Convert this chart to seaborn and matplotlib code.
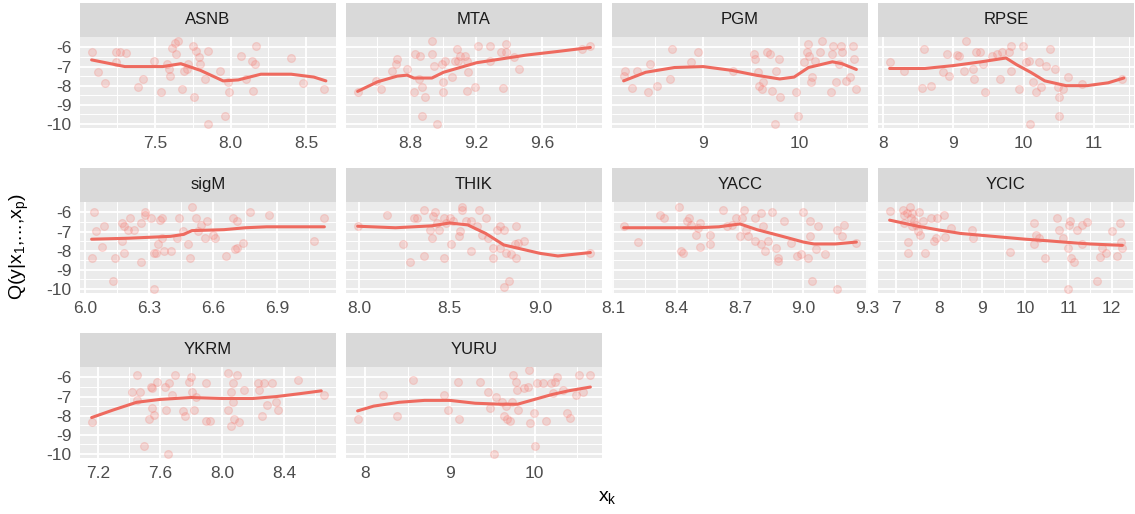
import pandas as pd
import seaborn as sns
import matplotlib.pyplot as plt
from matplotlib.patches import Rectangle

panels = ["ASNB", "MTA", "PGM", "RPSE", "sigM", "THIK", "YACC", "YCIC", "YKRM", "YURU"]

# scatter points (x_k, y) per panel
asnb_pts = [(7.08, -6.26), (7.12, -7.27), (7.17, -7.88), (7.24, -6.26), (7.27, -6.26), (7.31, -6.31),
            (7.24, -6.78), (7.39, -8.09), (7.42, -7.65), (7.49, -6.70), (7.54, -8.31), (7.58, -6.87),
            (7.59, -7.13), (7.60, -7.48), (7.61, -6.05), (7.63, -5.74), (7.65, -5.65), (7.64, -6.35),
            (7.68, -8.17), (7.69, -7.22), (7.71, -7.13), (7.72, -6.87), (7.76, -8.61), (7.75, -5.91),
            (7.77, -6.17), (7.79, -6.52), (7.80, -6.87), (7.83, -7.65), (7.85, -6.17), (7.93, -7.22),
            (7.96, -9.57), (7.98, -7.79), (7.99, -8.35), (8.07, -6.43), (8.10, -7.65), (8.14, -6.70),
            (8.15, -8.26), (8.16, -6.87), (8.17, -5.91), (8.40, -6.57), (8.48, -7.86), (8.62, -8.17),
            (7.85, -10.0)]
mta_pts = [(8.48, -8.35), (8.59, -7.74), (8.62, -8.17), (8.69, -7.22), (8.71, -6.87), (8.72, -6.61),
           (8.78, -7.13), (8.82, -8.35), (8.83, -6.35), (8.86, -6.43), (8.85, -7.65), (8.87, -8.09),
           (8.87, -9.57), (8.89, -8.61), (8.93, -6.35), (8.93, -5.65), (8.94, -6.96), (8.96, -10.0),
           (8.99, -6.87), (9.00, -7.83), (9.00, -8.35), (9.01, -6.70), (9.05, -7.57), (9.07, -6.70),
           (9.08, -6.09), (9.09, -6.70), (9.10, -6.43), (9.13, -6.43), (9.14, -6.70), (9.14, -8.26),
           (9.15, -7.30), (9.19, -8.09), (9.21, -5.91), (9.28, -5.91), (9.28, -6.70), (9.35, -6.26),
           (9.36, -8.14), (9.38, -5.83), (9.38, -6.26), (9.46, -7.13), (9.43, -6.52), (9.84, -6.09),
           (9.89, -5.91)]
pgm_pts = [(8.17, -7.48), (8.18, -7.22), (8.26, -8.14), (8.31, -7.22), (8.42, -8.31), (8.45, -6.87),
           (8.52, -8.03), (8.65, -7.65), (8.67, -6.09), (8.87, -6.75), (8.95, -6.26), (9.31, -7.22),
           (9.53, -6.35), (9.54, -6.61), (9.57, -7.30), (9.58, -8.03), (9.61, -8.17), (9.63, -7.83),
           (9.67, -6.26), (9.70, -6.35), (9.72, -8.26), (9.75, -10.0), (9.76, -7.22), (9.79, -6.61),
           (9.80, -8.61), (9.97, -8.31), (9.99, -9.57), (10.05, -6.78), (10.08, -6.26), (10.10, -5.83),
           (10.11, -6.47), (10.13, -7.83), (10.14, -7.57), (10.17, -6.70), (10.22, -6.26), (10.24, -5.65),
           (10.33, -8.31), (10.35, -6.35), (10.36, -5.91), (10.39, -7.83), (10.42, -6.87), (10.44, -5.91),
           (10.45, -6.26), (10.49, -7.74), (10.53, -7.57), (10.56, -5.91), (10.58, -6.61), (10.60, -8.17)]
rpse_pts = [(8.10, -6.75), (8.30, -7.22), (8.56, -8.14), (8.59, -6.09), (8.68, -8.03), (8.86, -7.30),
            (8.92, -6.35), (8.94, -7.48), (9.05, -6.40), (9.09, -6.47), (9.16, -7.22), (9.18, -5.65),
            (9.28, -7.13), (9.30, -7.65), (9.33, -6.26), (9.38, -6.26), (9.43, -6.87), (9.45, -8.31),
            (9.55, -6.43), (9.62, -6.35), (9.67, -7.65), (9.69, -6.26), (9.79, -6.26), (9.82, -5.91),
            (9.82, -7.22), (9.93, -8.17), (9.99, -5.91), (10.03, -6.78), (10.08, -6.70), (10.09, -10.0),
            (10.13, -7.83), (10.17, -8.35), (10.22, -6.78), (10.25, -8.09), (10.32, -6.96), (10.37, -6.09),
            (10.44, -7.13), (10.49, -8.09), (10.50, -8.61), (10.50, -9.57), (10.56, -8.17), (10.63, -7.57),
            (10.83, -7.91), (11.40, -7.65)]
sigm_pts = [(6.03, -8.36), (6.04, -5.95), (6.05, -6.98), (6.09, -6.72), (6.08, -7.79), (6.13, -9.57),
            (6.14, -8.36), (6.17, -7.50), (6.17, -6.55), (6.18, -8.14), (6.18, -6.72), (6.20, -6.90),
            (6.21, -6.29), (6.23, -6.90), (6.26, -6.55), (6.26, -8.59), (6.28, -5.95), (6.28, -6.12),
            (6.31, -6.29), (6.32, -8.10), (6.32, -10.0), (6.33, -8.10), (6.34, -7.67), (6.35, -6.38),
            (6.36, -7.33), (6.36, -6.29), (6.37, -8.02), (6.40, -8.02), (6.43, -7.33), (6.44, -6.29),
            (6.46, -6.98), (6.48, -7.67), (6.49, -8.36), (6.50, -5.69), (6.52, -6.29), (6.53, -6.98),
            (6.54, -6.64), (6.56, -7.33), (6.57, -6.47), (6.60, -7.16), (6.61, -7.33), (6.66, -8.28),
            (6.69, -6.29), (6.70, -7.93), (6.71, -6.47), (6.71, -7.84), (6.74, -7.59), (6.77, -5.95),
            (6.86, -6.12), (7.07, -7.50), (7.12, -6.29)]
thik_pts = [(7.99, -6.72), (8.15, -6.12), (8.24, -7.67), (8.28, -8.59), (8.30, -6.29), (8.32, -6.29),
            (8.36, -5.86), (8.36, -8.28), (8.39, -6.90), (8.40, -7.33), (8.41, -6.21), (8.42, -5.95),
            (8.43, -6.55), (8.44, -6.90), (8.47, -8.36), (8.47, -6.29), (8.48, -6.55), (8.50, -6.29),
            (8.51, -7.67), (8.52, -6.47), (8.55, -7.24), (8.56, -6.98), (8.57, -5.69), (8.57, -5.86),
            (8.59, -6.47), (8.62, -8.02), (8.62, -6.47), (8.65, -6.72), (8.66, -5.86), (8.68, -7.16),
            (8.70, -6.29), (8.71, -7.33), (8.74, -7.84), (8.74, -8.36), (8.76, -6.90), (8.78, -6.72),
            (8.78, -7.84), (8.80, -6.90), (8.80, -9.91), (8.81, -8.10), (8.83, -9.57), (8.84, -8.19),
            (8.86, -7.67), (8.87, -6.72), (8.87, -8.36), (8.88, -7.59), (8.91, -7.50), (9.28, -8.10)]
yacc_pts = [(8.15, -6.72), (8.22, -7.55), (8.32, -6.12), (8.34, -6.29), (8.41, -5.69), (8.42, -8.02),
            (8.43, -8.10), (8.45, -6.47), (8.46, -6.29), (8.47, -6.64), (8.49, -7.16), (8.50, -6.81),
            (8.51, -7.79), (8.51, -6.55), (8.56, -7.67), (8.56, -7.16), (8.62, -5.86), (8.64, -6.72),
            (8.66, -6.64), (8.68, -6.29), (8.70, -7.24), (8.71, -6.29), (8.72, -5.86), (8.73, -6.90),
            (8.74, -7.24), (8.77, -7.50), (8.77, -6.29), (8.80, -7.67), (8.80, -6.03), (8.81, -6.72),
            (8.82, -8.02), (8.83, -7.50), (8.85, -5.95), (8.87, -7.84), (8.88, -8.36), (8.88, -8.53),
            (8.91, -6.47), (8.94, -7.59), (8.97, -8.28), (8.99, -8.19), (9.00, -5.95), (9.02, -8.36),
            (9.03, -6.47), (9.03, -7.24), (9.04, -9.57), (9.06, -7.93), (9.07, -6.72), (9.10, -8.19),
            (9.16, -6.90), (9.16, -10.0), (9.18, -7.24), (9.19, -6.64), (9.25, -7.59)]
ycic_pts = [(6.85, -5.90), (7.15, -5.86), (7.18, -6.12), (7.19, -6.55), (7.25, -6.03), (7.27, -7.55),
            (7.28, -8.10), (7.33, -5.69), (7.35, -6.29), (7.36, -6.72), (7.38, -6.03), (7.41, -6.47),
            (7.46, -6.64), (7.50, -6.98), (7.54, -5.95), (7.56, -7.16), (7.62, -6.47), (7.67, -8.14),
            (7.81, -6.29), (7.88, -7.50), (7.92, -7.33), (7.95, -6.29), (8.12, -6.12), (8.13, -7.28),
            (8.28, -6.81), (8.77, -6.90), (8.79, -7.33), (9.64, -8.07), (10.21, -6.55), (10.21, -7.67),
            (10.25, -7.16), (10.31, -7.33), (10.46, -8.36), (10.73, -6.29), (10.77, -6.90), (10.88, -7.33),
            (10.98, -10.0), (11.00, -7.84), (11.02, -6.64), (11.04, -6.47), (11.05, -8.36), (11.13, -8.59),
            (11.19, -6.90), (11.31, -6.64), (11.31, -7.67), (11.44, -6.52), (11.65, -9.57), (11.73, -8.31),
            (11.77, -7.84), (11.87, -8.10), (12.02, -6.98), (12.13, -8.28), (12.19, -6.55), (12.21, -7.55),
            (12.25, -7.84)]
ykrm_pts = [(7.16, -8.33), (7.42, -6.74), (7.45, -5.88), (7.45, -7.17), (7.47, -6.74), (7.50, -9.57),
            (7.53, -8.16), (7.54, -6.48), (7.55, -6.57), (7.55, -7.60), (7.56, -7.94), (7.58, -6.22),
            (7.63, -6.48), (7.64, -7.68), (7.65, -10.0), (7.66, -6.31), (7.68, -6.91), (7.70, -5.88),
            (7.75, -7.77), (7.76, -8.03), (7.79, -6.22), (7.80, -5.97), (7.81, -6.74), (7.82, -7.68),
            (7.83, -7.00), (7.90, -6.27), (7.90, -8.28), (7.92, -8.28), (8.04, -7.68), (8.04, -5.79),
            (8.06, -6.74), (8.06, -8.54), (8.07, -6.31), (8.07, -7.26), (8.08, -8.20), (8.10, -5.88),
            (8.11, -8.33), (8.14, -6.65), (8.23, -6.31), (8.24, -6.65), (8.26, -8.03), (8.27, -6.31),
            (8.29, -7.43), (8.32, -6.31), (8.35, -7.26), (8.36, -7.68), (8.49, -6.14), (8.66, -6.91)]
yuru_pts = [(7.91, -8.16), (8.21, -6.91), (8.37, -8.03), (8.56, -6.14), (8.93, -6.91), (8.98, -7.68),
            (9.11, -8.20), (9.10, -6.22), (9.36, -6.22), (9.45, -6.74), (9.47, -7.60), (9.52, -10.0),
            (9.54, -7.00), (9.61, -7.26), (9.64, -8.03), (9.66, -7.51), (9.67, -8.16), (9.71, -8.28),
            (9.73, -7.26), (9.75, -5.88), (9.78, -6.22), (9.79, -6.65), (9.81, -7.68), (9.87, -6.57),
            (9.92, -6.48), (9.94, -5.62), (9.95, -8.37), (9.99, -7.85), (10.00, -9.57), (10.03, -6.31),
            (10.10, -6.31), (10.13, -8.28), (10.20, -6.31), (10.22, -6.82), (10.24, -6.22), (10.27, -5.97),
            (10.34, -6.65), (10.38, -7.85), (10.42, -8.11), (10.49, -6.91), (10.52, -5.88), (10.57, -6.74),
            (10.66, -5.88)]

# fitted quantile curves per panel
asnb_fit = [(7.08, -6.65), (7.3, -7.0), (7.55, -7.0), (7.67, -6.85), (7.8, -7.2), (7.95, -7.75),
            (8.05, -7.7), (8.2, -7.4), (8.4, -7.4), (8.55, -7.55), (8.63, -7.75)]
mta_fit = [(8.48, -8.3), (8.6, -7.8), (8.72, -7.5), (8.78, -7.45), (8.82, -7.6), (8.93, -7.6),
           (9.0, -7.3), (9.1, -7.05), (9.2, -6.8), (9.35, -6.6), (9.5, -6.4), (9.7, -6.2), (9.89, -6.0)]
pgm_fit = [(8.17, -7.75), (8.4, -7.3), (8.7, -7.05), (9.0, -7.0), (9.3, -7.2), (9.55, -7.45),
           (9.8, -7.65), (9.95, -7.55), (10.1, -7.05), (10.35, -6.75), (10.45, -6.85), (10.6, -7.15)]
rpse_fit = [(8.1, -7.1), (8.6, -7.1), (9.0, -6.95), (9.4, -6.75), (9.75, -6.55), (9.9, -6.9),
            (10.1, -7.3), (10.3, -7.75), (10.6, -8.0), (10.9, -8.0), (11.2, -7.85), (11.42, -7.6)]
sigm_fit = [(6.03, -7.4), (6.2, -7.35), (6.4, -7.25), (6.46, -7.15), (6.5, -6.95), (6.65, -6.9),
            (6.75, -6.8), (6.85, -6.75), (7.12, -6.75)]
thik_fit = [(7.99, -6.72), (8.2, -6.8), (8.4, -6.7), (8.5, -6.55), (8.6, -6.65), (8.7, -7.1),
            (8.8, -7.7), (9.0, -8.14), (9.1, -8.28), (9.28, -8.1)]
yacc_fit = [(8.15, -6.8), (8.5, -6.8), (8.6, -6.75), (8.7, -6.6), (8.78, -6.9), (8.9, -7.25),
            (9.0, -7.55), (9.05, -7.65), (9.15, -7.65), (9.25, -7.55)]
ycic_fit = [(6.85, -6.4), (7.5, -6.72), (8.0, -6.92), (8.5, -7.1), (9.0, -7.2), (9.5, -7.3),
            (10.0, -7.4), (10.5, -7.48), (11.0, -7.57), (11.5, -7.65), (12.0, -7.7), (12.25, -7.72)]
ykrm_fit = [(7.16, -8.1), (7.3, -7.7), (7.45, -7.3), (7.6, -7.15), (7.8, -7.05), (8.0, -7.1),
            (8.2, -7.1), (8.35, -7.0), (8.5, -6.85), (8.64, -6.7)]
yuru_fit = [(7.91, -7.75), (8.1, -7.5), (8.4, -7.3), (8.7, -7.2), (9.0, -7.2), (9.3, -7.35),
            (9.6, -7.4), (9.8, -7.4), (10.0, -7.15), (10.2, -6.9), (10.4, -6.7), (10.66, -6.5)]

# x tick labels per panel
x_ticks = {
    "ASNB": ["7.5", "8.0", "8.5"],
    "MTA": ["8.8", "9.2", "9.6"],
    "PGM": ["9", "10"],
    "RPSE": ["8", "9", "10", "11"],
    "sigM": ["6.0", "6.3", "6.6", "6.9"],
    "THIK": ["8.0", "8.5", "9.0"],
    "YACC": ["8.1", "8.4", "8.7", "9.0", "9.3"],
    "YCIC": ["7", "8", "9", "10", "11", "12"],
    "YKRM": ["7.2", "7.6", "8.0", "8.4"],
    "YURU": ["8", "9", "10"],
}
y_ticks = ["-6", "-7", "-8", "-9", "-10"]

all_pts = [asnb_pts, mta_pts, pgm_pts, rpse_pts, sigm_pts, thik_pts, yacc_pts, ycic_pts, ykrm_pts, yuru_pts]
all_fit = [asnb_fit, mta_fit, pgm_fit, rpse_fit, sigm_fit, thik_fit, yacc_fit, ycic_fit, ykrm_fit, yuru_fit]

pts = pd.concat([pd.DataFrame(p, columns=["x", "y"]).assign(var=n) for n, p in zip(panels, all_pts)])
fit = pd.concat([pd.DataFrame(f, columns=["x", "y"]).assign(var=n) for n, f in zip(panels, all_fit)])

sns.set_theme(style="white")
plt.rcParams["font.family"] = ["Liberation Sans", "DejaVu Sans"]
plt.rcParams["mathtext.fontset"] = "custom"
plt.rcParams["mathtext.rm"] = "Liberation Sans"

W, H = 1135, 514
fig = plt.figure(figsize=(W / 100, H / 100), dpi=100)

col_left = [80, 346, 612, 878]
row_top = [37, 202, 367]
pw, ph, strip_h = 256, 91, 34
red = "#F8766D"
ymin, ymax = -10.22, -5.45
yvals = [float(t) for t in y_ticks]

for i, name in enumerate(panels):
    r, c = divmod(i, 4)
    ax = fig.add_axes([col_left[c] / W, 1 - (row_top[r] + ph) / H, pw / W, ph / H])
    ax.set_facecolor("#EBEBEB")
    d = pts[pts["var"] == name]
    f = fit[fit["var"] == name]

    xt = [float(t) for t in x_ticks[name]]
    step = xt[1] - xt[0]
    lo, hi = d["x"].min(), d["x"].max()
    pad = 0.05 * (hi - lo)
    xlo, xhi = lo - pad, hi + pad
    minor = [xt[0] - step / 2 + k * step for k in range(len(xt) + 1)]
    minor = [m for m in minor if xlo <= m <= xhi]

    ax.set_axisbelow(True)
    ax.set_xticks(xt)
    ax.set_xticklabels(x_ticks[name])
    ax.set_xticks(minor, minor=True)
    ax.set_yticks(yvals)
    ax.set_yticks([-6.5, -7.5, -8.5, -9.5], minor=True)
    ax.grid(which="major", color="white", lw=1.3)
    ax.grid(which="minor", color="white", lw=0.7)

    sns.scatterplot(data=d, x="x", y="y", ax=ax, color=red, s=32, alpha=0.22,
                    edgecolor=red, linewidth=0.9, zorder=2)
    sns.lineplot(data=f, x="x", y="y", ax=ax, color="#EE6A5F", lw=2.2, zorder=3,
                 estimator=None, sort=True)

    ax.set_xlim(xlo, xhi)
    ax.set_ylim(ymin, ymax)
    ax.set_xlabel("")
    ax.set_ylabel("")
    for s in ax.spines.values():
        s.set_visible(False)

    ax.tick_params(axis="both", which="major", length=4, width=1, color="#333333",
                   labelsize=12.5, labelcolor="#4D4D4D", pad=2)
    ax.tick_params(which="minor", length=0)
    if c == 0:
        ax.set_yticklabels(y_ticks)
    else:
        ax.tick_params(axis="y", which="both", left=False, labelleft=False)

    ax.add_patch(Rectangle((0, 1), 1, strip_h / ph, transform=ax.transAxes,
                           facecolor="#D9D9D9", edgecolor="none", clip_on=False))
    ax.text(0.5, 1 + strip_h / ph / 2, name, transform=ax.transAxes, ha="center",
            va="center", fontsize=12, color="#1A1A1A")

fig.text(19 / W, 1 - 247 / H, r"Q(y|x$\mathregular{_1}$,...,x$\mathregular{_p}$)", rotation=90,
         ha="center", va="center", fontsize=14, color="black")
fig.text(607 / W, 1 - 497 / H, r"x$\mathregular{_k}$", ha="center", va="center",
         fontsize=14, color="black")

fig.savefig("out.png", dpi=100)
